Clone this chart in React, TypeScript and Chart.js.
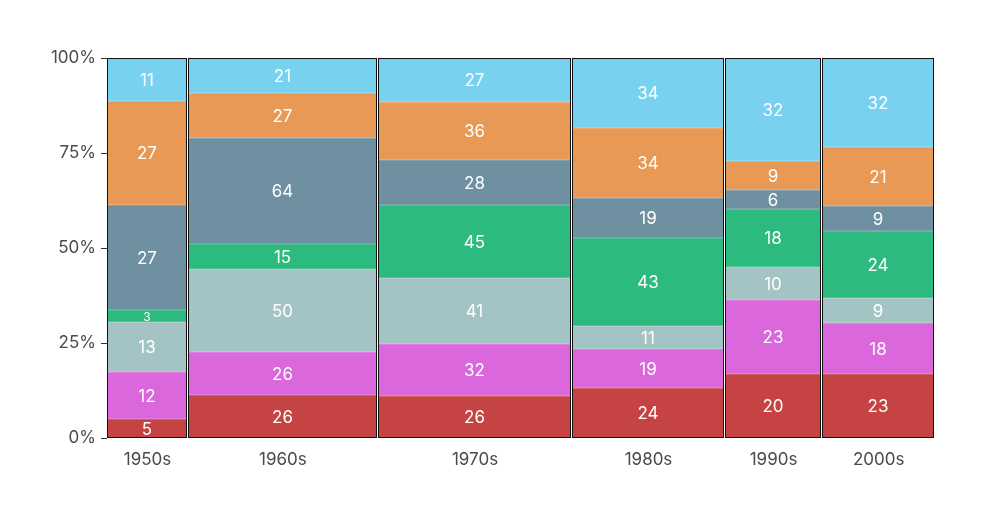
import React, { useEffect, useRef } from "react";
import { Chart, registerables } from "chart.js";

Chart.register(...registerables);

const categories = ["1950s", "1960s", "1970s", "1980s", "1990s", "2000s"];
const seriesNames = ["A", "B", "C", "D", "E", "F", "G"];
const serRed = [5, 26, 26, 24, 20, 23];
const serMagenta = [12, 26, 32, 19, 23, 18];
const serTeal = [13, 50, 41, 11, 10, 9];
const serGreen = [3, 15, 45, 43, 18, 24];
const serSlate = [27, 64, 28, 19, 6, 9];
const serOrange = [27, 27, 36, 34, 9, 21];
const serBlue = [11, 21, 27, 34, 32, 32];
const yTicks = [0, 25, 50, 75, 100];

const seriesValues = [serRed, serMagenta, serTeal, serGreen, serSlate, serOrange, serBlue];
const seriesColors = ["#c64343", "#da67dc", "#a4c3c4", "#2dba7f", "#6f90a0", "#e89955", "#78d1ef"];
const seriesEdges = ["#cf6060", "#e07fe1", "#b2cccd", "#4cc592", "#84a0ae", "#edab72", "#8ed9f2"];

export default function App() {
  const ref = useRef<HTMLCanvasElement | null>(null);

  useEffect(() => {
    if (!ref.current) return;
    const totals = categories.map((_, i) => seriesValues.reduce((s, arr) => s + arr[i], 0));
    const grand = totals.reduce((a, b) => a + b, 0);
    const starts: number[] = [];
    const ends: number[] = [];
    let acc = 0;
    totals.forEach((t) => {
      starts.push(acc);
      acc += t;
      ends.push(acc);
    });
    const centers = starts.map((s, i) => (s + ends[i]) / 2);

    const segDatasets = seriesValues.map((vals, si) => ({
      label: seriesNames[si],
      data: vals.map((v, i) => {
        let lo = 0;
        for (let k = 0; k < si; k++) lo += seriesValues[k][i];
        return { x: centers[i], y: [(lo / totals[i]) * 100, ((lo + v) / totals[i]) * 100], raw: v };
      }),
      backgroundColor: seriesColors[si],
      borderColor: seriesEdges[si],
      borderWidth: 1,
      borderSkipped: false,
      inflateAmount: 0,
      grouped: false,
    }));

    const outline = {
      label: "outline",
      data: centers.map((c) => ({ x: c, y: [0, 100] })),
      backgroundColor: "rgba(0,0,0,0)",
      borderColor: "#111111",
      borderWidth: 1,
      borderSkipped: false,
      inflateAmount: 0,
      grouped: false,
      isOutline: true,
    };

    const marimekko = {
      id: "marimekko",
      afterDatasetsUpdate(chart: any) {
        const xs = chart.scales.x;
        chart.data.datasets.forEach((ds: any, di: number) => {
          const meta = chart.getDatasetMeta(di);
          meta.data.forEach((el: any, i: number) => {
            const l = Math.round(xs.getPixelForValue(starts[i]));
            const r = Math.round(xs.getPixelForValue(ends[i]));
            el.x = (l + r - 1) / 2;
            el.width = r - l - 1;
            el.y = Math.round(el.y);
            el.base = Math.round(el.base);
          });
        });
      },
      afterDatasetsDraw(chart: any) {
        const ctx = chart.ctx;
        ctx.save();
        ctx.fillStyle = "#ffffff";
        ctx.textAlign = "center";
        ctx.textBaseline = "middle";
        chart.data.datasets.forEach((ds: any, di: number) => {
          if (ds.isOutline) return;
          const meta = chart.getDatasetMeta(di);
          meta.data.forEach((el: any, i: number) => {
            const h = Math.abs(el.base - el.y);
            const size = Math.min(17, Math.max(12, h));
            ctx.font = `${size}px Inter, "Noto Sans", sans-serif`;
            ctx.fillText(String(ds.data[i].raw), el.x, (el.y + el.base) / 2 + 1);
          });
        });
        ctx.restore();
      },
    };

    const chart = new Chart(ref.current, {
      type: "bar",
      data: { datasets: [outline as any, ...(segDatasets as any)] },
      options: {
        animation: false,
        responsive: false,
        layout: { padding: { left: 50, right: 52, top: 58, bottom: 38 } },
        plugins: { legend: { display: false }, tooltip: { enabled: false } },
        scales: {
          x: {
            type: "linear",
            min: 0,
            max: grand,
            offset: false,
            grid: { display: false, drawTicks: false, offset: false },
            border: { display: false },
            afterBuildTicks: (scale: any) => {
              scale.ticks = centers.map((v) => ({ value: v }));
            },
            afterFit: (scale: any) => {
              scale.height = 40;
            },
            ticks: {
              autoSkip: false,
              maxRotation: 0,
              padding: 12,
              color: "#4a4a4a",
              font: { family: "Inter, 'Noto Sans', sans-serif", size: 17 },
              callback: (_v: any, idx: number) => categories[idx],
            },
          },
          y: {
            type: "linear",
            min: 0,
            max: 100,
            afterBuildTicks: (scale: any) => {
              scale.ticks = yTicks.map((v) => ({ value: v }));
            },
            afterFit: (scale: any) => {
              scale.width = 57;
            },
            grid: { drawOnChartArea: false, drawTicks: true, tickLength: 6, color: "#333" },
            border: { display: false },
            ticks: {
              padding: 5,
              color: "#4a4a4a",
              font: { family: "Inter, 'Noto Sans', sans-serif", size: 17 },
              callback: (v: any) => v + "%",
            },
          },
        },
      },
      plugins: [marimekko],
    });
    return () => chart.destroy();
  }, []);

  return (
    <div style={{ position: "absolute", left: 0, top: 0, width: 987, height: 516, background: "#fff" }}>
      <canvas ref={ref} width={987} height={516} style={{ display: "block" }} />
    </div>
  );
}
